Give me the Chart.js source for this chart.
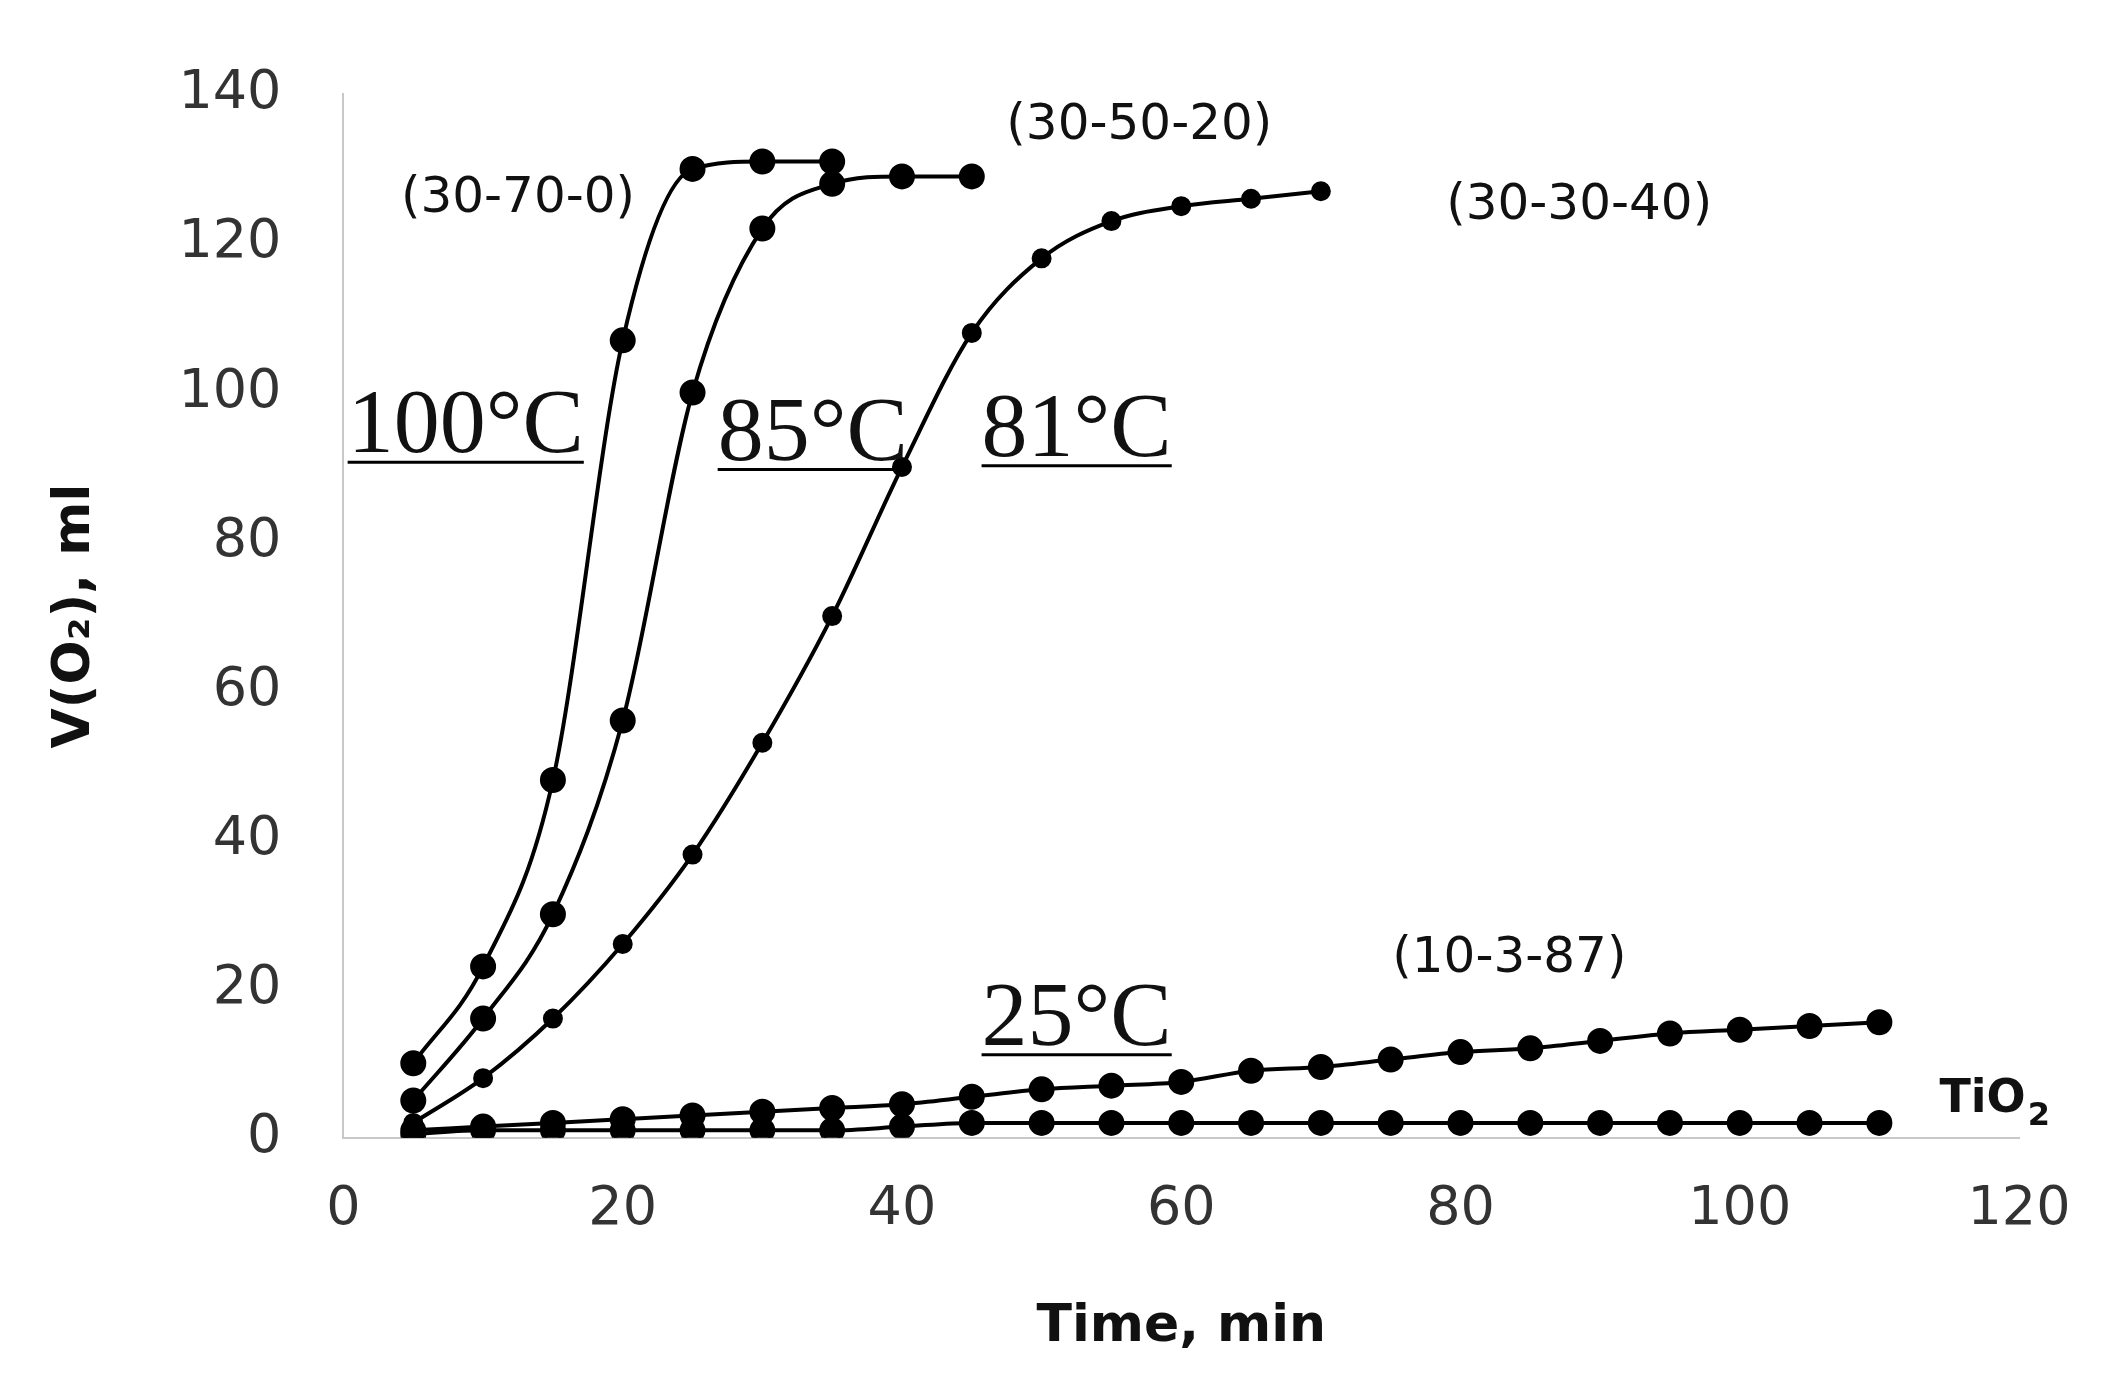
<!DOCTYPE html>
<html><head><meta charset="utf-8">
<script src="https://cdn.jsdelivr.net/npm/chart.js@4"></script>
<style>html,body{margin:0;background:#fff}#w{width:2111px;height:1393px}</style>
</head><body><div id="w"><canvas id="c"></canvas></div>
<script>
const xTicks=[0,20,40,60,80,100,120];
const yTicks=[0,20,40,60,80,100,120,140];
const t100=[5,10,15,20,25,30,35];
const v100=[10,23,48,107,130,131,131];
const t85=[5,10,15,20,25,30,35,40,45];
const v85=[5,16,30,56,100,122,128,129,129];
const t81=[5,10,15,20,25,30,35,40,45,50,55,60,65,70];
const v81=[2,8,16,26,38,53,70,90,108,118,123,125,126,127];
const t25=[5,10,15,20,25,30,35,40,45,50,55,60,65,70,75,80,85,90,95,100,105,110];
const v25=[1,1.5,2,2.5,3,3.5,4,4.5,5.5,6.5,7,7.5,9,9.5,10.5,11.5,12,13,14,14.5,15,15.5];
const tTi=[5,10,15,20,25,30,35,40,45,50,55,60,65,70,75,80,85,90,95,100,105,110];
const vTi=[0.5,1,1,1,1,1,1,1.5,2,2,2,2,2,2,2,2,2,2,2,2,2,2];
const labels=[
 {t:'(30-70-0)',x:12.5,y:126,a:'center'},
 {t:'(30-50-20)',x:57,y:135.7,a:'center'},
 {t:'(30-30-40)',x:88.5,y:125,a:'center'},
 {t:'(10-3-87)',x:83.5,y:24,a:'center'}];
const temps=[{t:'100°C',x:0.3,y:92},{t:'85°C',x:26.8,y:91},{t:'81°C',x:45.7,y:91.5},{t:'25°C',x:45.7,y:12.5}];
const mk=(t,v,r)=>({data:t.map((x,i)=>({x,y:v[i]})),borderColor:'#000',backgroundColor:'#000',borderWidth:4,pointRadius:r,pointHoverRadius:r,tension:0.4,cubicInterpolationMode:'monotone'});
const ann={id:'ann',afterDatasetsDraw(ch){const c=ch.ctx,xs=ch.scales.x,ys=ch.scales.y;c.save();c.fillStyle='#111';c.textBaseline='middle';
 c.font='50px "DejaVu Sans"';
 labels.forEach(l=>{c.textAlign=l.a;c.fillText(l.t,xs.getPixelForValue(l.x),ys.getPixelForValue(l.y));});
 c.textAlign='left';c.font='bold 46px "DejaVu Sans"';const tx=xs.getPixelForValue(114.3),ty=ys.getPixelForValue(5);c.fillText('TiO',tx,ty);const w=c.measureText('TiO').width;c.font='bold 32px "DejaVu Sans"';c.fillText('2',tx+w+2,ty+16);
 c.font='92px "Liberation Serif"';c.textBaseline='alphabetic';c.lineWidth=3;c.strokeStyle='#000';
 temps.forEach(l=>{const px=xs.getPixelForValue(l.x),py=ys.getPixelForValue(l.y);c.fillText(l.t,px,py);const w=c.measureText(l.t).width;c.beginPath();c.moveTo(px,py+10);c.lineTo(px+w,py+10);c.stroke();});
 c.restore();}};
new Chart(document.getElementById('c'),{type:'line',
 data:{datasets:[mk(t100,v100,11),mk(t85,v85,11),mk(t81,v81,8),mk(t25,v25,11),mk(tTi,vTi,11)]},
 options:{responsive:true,maintainAspectRatio:false,animation:false,
  layout:{padding:{left:40,right:92,top:35,bottom:30}},
  plugins:{legend:{display:false},tooltip:{enabled:false}},
  scales:{
   x:{type:'linear',min:0,max:120,afterBuildTicks:a=>{a.ticks=xTicks.map(v=>({value:v}))},
    grid:{display:false,drawTicks:false},border:{color:'#c8c8c8',width:2},
    ticks:{color:'#333',font:{family:'DejaVu Sans',size:54},padding:40},
    title:{display:true,text:'Time, min',color:'#111',font:{family:'DejaVu Sans',size:52,weight:'bold'},padding:{top:14}}},
   y:{min:0,max:140,afterBuildTicks:a=>{a.ticks=yTicks.map(v=>({value:v}))},
    grid:{display:false,drawTicks:false},border:{color:'#c8c8c8',width:2},
    ticks:{color:'#333',font:{family:'DejaVu Sans',size:54},padding:62},
    title:{display:true,text:'V(O₂), ml',color:'#111',font:{family:'DejaVu Sans',size:52,weight:'bold'},padding:{bottom:10}}}}},
 plugins:[ann]});
</script></body></html>
